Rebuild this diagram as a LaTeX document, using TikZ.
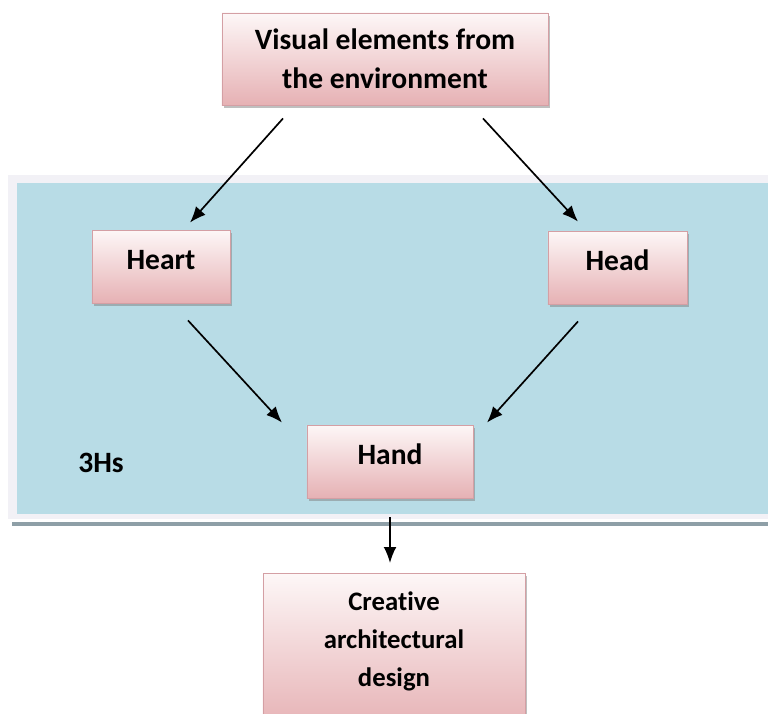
\documentclass[tikz,border=0pt]{standalone}
\usepackage{fontspec}
\setmainfont[Ligatures=NoCommon]{Carlito}
\usetikzlibrary{arrows.meta,shadows}

\definecolor{boxtop}{HTML}{FDF7F7}
\definecolor{boxbot}{HTML}{E6B1B4}
\definecolor{boxline}{HTML}{D49FA4}
\definecolor{panelblue}{HTML}{B8DCE6}
\definecolor{panelrim}{HTML}{F2F1F6}
\definecolor{panelline}{HTML}{8E9FA7}

\tikzset{
  hbox/.style={draw=boxline, line width=.6pt, top color=boxtop, bottom color=boxbot,
    font=\bfseries\fontsize{21}{28}\selectfont, align=center, inner sep=0pt,
    drop shadow={shadow xshift=1.5pt, shadow yshift=-2pt, fill=black!50, opacity=.5}},
  lift/.style={text depth=.35cm},
  flow/.style={-{Latex[length=4mm,width=3.2mm]}, line width=1.2pt}
}

\begin{document}
\begin{tikzpicture}[x=0.025cm,y=-0.025cm]
\useasboundingbox (0,0) rectangle (768,713);

% blue band
\fill[panelrim] (8,175) rectangle (768,519);
\fill[panelblue] (17,183) rectangle (768,514);
\draw[panelline, line width=2.5pt] (12,524) -- (768,524);

\node (vis) [hbox, minimum width=8.15cm, minimum height=2.3cm] at (385,59)
    {Visual elements from\\the environment};
\node (heart) [hbox, lift, minimum width=3.45cm, minimum height=1.825cm] at (161,266.5) {Heart};
\node (head) [hbox, lift, minimum width=3.475cm, minimum height=1.825cm] at (617.5,267.5) {Head};
\node (hand) [hbox, lift, minimum width=4.15cm, minimum height=1.825cm] at (390,461.5) {Hand};
\node (cre) [hbox, font=\bfseries\fontsize{19}{27}\selectfont, anchor=north, text depth=.6cm,
    minimum width=6.55cm, minimum height=3.9cm] at (394,573)
    {Creative\\architectural\\design};
\node (hs) [font=\bfseries\fontsize{21}{25}\selectfont] at (101,463) {3Hs};

\path (node cs:name=vis,anchor=south) +(-102,13) coordinate (visl) {};
\path (node cs:name=heart,anchor=north) +(29,-7) coordinate (hearti) {};
\draw[flow] (visl) -- (hearti);
\path (node cs:name=vis,anchor=south) +(98,13) coordinate (visr) {};
\path (node cs:name=head,anchor=north) +(-39.5,-9) coordinate (headi) {};
\draw[flow] (visr) -- (headi);
\path (node cs:name=heart,anchor=south) +(27,17) coordinate (hearto) {};
\path (node cs:name=hand,anchor=north) +(-108,-2) coordinate (handl) {};
\draw[flow] (hearto) -- (handl);
\path (node cs:name=head,anchor=south) +(-39.5,17) coordinate (heado) {};
\path (node cs:name=hand,anchor=north) +(97,-2) coordinate (handr) {};
\draw[flow] (heado) -- (handr);
\path (node cs:name=hand,anchor=south) +(0,19) coordinate (hando) {};
\path (node cs:name=cre,anchor=north) +(-4,-10) coordinate (crei) {};
\draw[flow] (hando) -- (crei);
\end{tikzpicture}
\end{document}
